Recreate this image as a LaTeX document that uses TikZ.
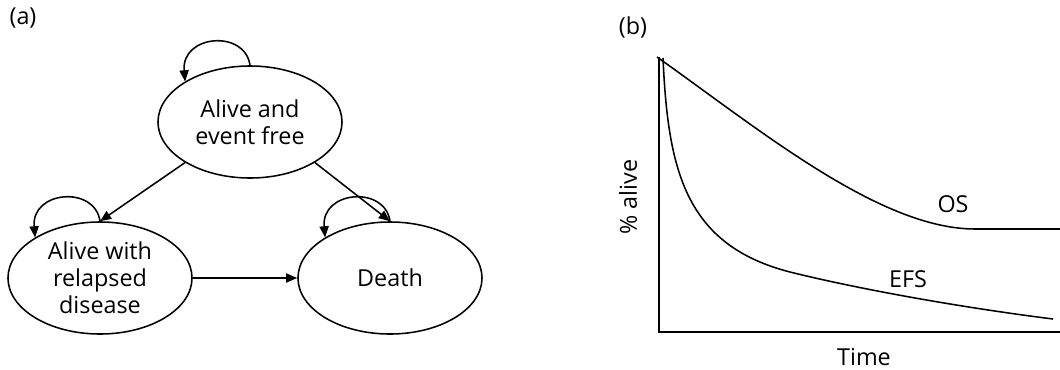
\documentclass[tikz,border=0pt]{standalone}
\usepackage{fontspec}
\setmainfont{Open Sans}
\usetikzlibrary{shapes.geometric, arrows.meta}
\tikzstyle{state} = [ellipse, minimum width=4.6cm, minimum height=2.8cm, inner sep=0pt,
                     align=center, draw=black, line width=1.1pt]
\tikzstyle{arrow} = [-{Triangle[length=2.8mm, width=2.3mm]}, line width=1.1pt]
\tikzstyle{curve} = [line width=1.1pt]
\tikzset{every node/.style={font=\fontsize{16.6}{19.2}\selectfont}}

\begin{document}
\begin{tikzpicture}[x=0.025cm, y=-0.025cm]
    \useasboundingbox (0,0) rectangle (1060,369);

    % (a) states
    \node (lbla) at (23,18) {(a)};
    \node[state] (efree) at (250,122) {Alive and\\event free};
    \node[state] (relapse) at (100,278) {Alive with\\relapsed\\disease};
    \node[state] (death) at (390,278) {Death};

    \draw[arrow] (efree.212) -- (relapse.north);
    \draw[arrow] (efree.-32) -- (death.north);
    \draw[arrow] (relapse.east) -- (death.west);
    \foreach \s in {efree, relapse, death}
        \draw[arrow] (\s.north) .. controls +(-5,-36) and +(-4,-47) .. (\s.148);

    % (b) survival curves
    \node (lblb) at (633,27) {(b)};
    \coordinate (o) at (659,332);
    \coordinate (ytop) at (659,57);
    \coordinate (xend) at (1060,332);
    \draw[curve] (ytop) -- (o) -- (xend);

    \draw[curve] (657,57) .. controls (760,130) and (880,229) .. (975,229) -- (1060,229);
    \draw[curve] (663,58) .. controls (668,170) and (685,245) .. (790,272)
        .. controls (850,287) and (950,306) .. (1053,319);

    \node (os) at (953,204) {OS};
    \node (efs) at (908,279) {EFS};
    \node[rotate=90] (ylab) at (628,197) {\% alive};
    \node (xlab) at (864,357) {Time};
\end{tikzpicture}
\end{document}
